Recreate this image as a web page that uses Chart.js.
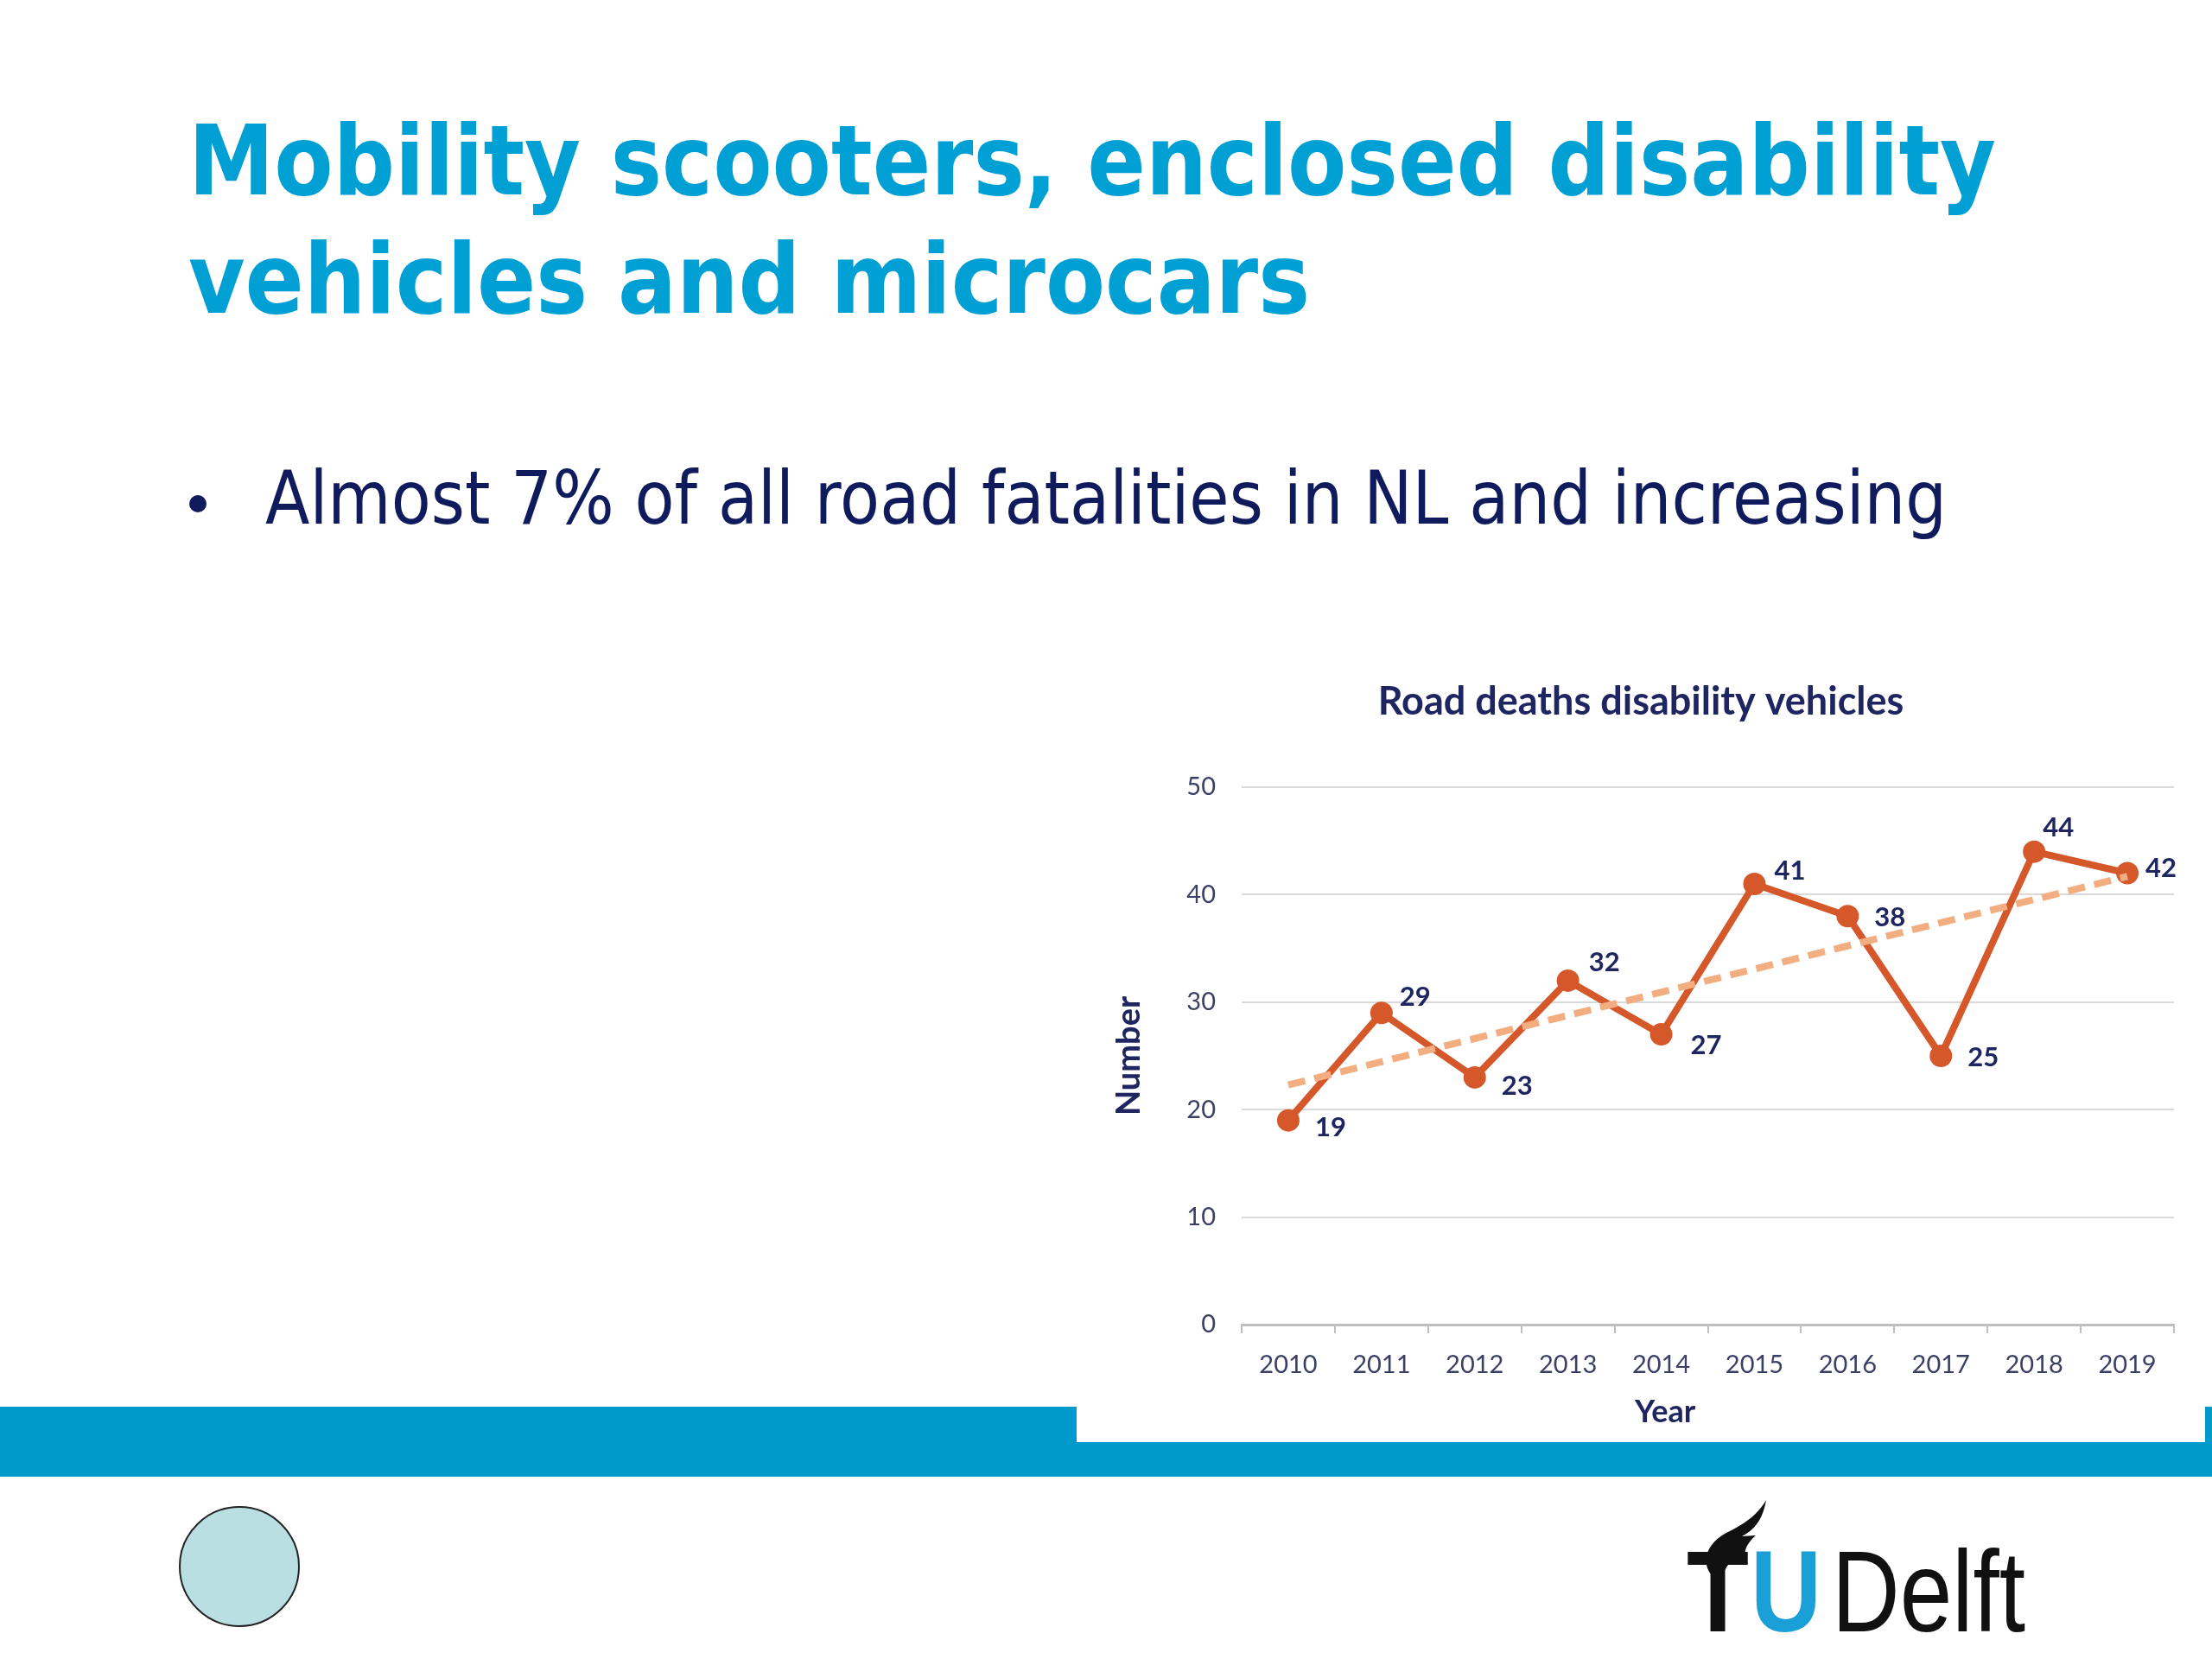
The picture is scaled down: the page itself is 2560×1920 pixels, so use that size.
<!DOCTYPE html>
<html>
<head>
<meta charset="utf-8">
<script src="https://cdn.jsdelivr.net/npm/chart.js@4.4.0/dist/chart.umd.min.js"></script>
<style>
  html, body { margin: 0; padding: 0; background: #fff; }
  body { width: 2560px; height: 1920px; position: relative; overflow: hidden; }
  .title {
    position: absolute; left: 218px; top: 118px; margin: 0;
    font-family: "DejaVu Sans", sans-serif; font-weight: bold;
    font-size: 112px; line-height: 137px; color: #009fd4; white-space: nowrap;
  }
  .title span, .bullet span { display: inline-block; transform-origin: left center; }
  .bullet {
    position: absolute; left: 307px; top: 527px;
    font-family: "DejaVu Sans", sans-serif; font-size: 85px; line-height: 100px;
    color: #0f1b5c; white-space: nowrap;
  }
  .dot { position: absolute; left: 219px; top: 573px; width: 20px; height: 20px; border-radius: 50%; background: #0f1b5c; }
  .band { position: absolute; left: 0; top: 1628px; width: 2560px; height: 81px; background: #0099cc; }
  .chartbox { position: absolute; left: 1246px; top: 760px; width: 1306px; height: 909px; background: #fff; }
  .circle { position: absolute; left: 207px; top: 1743px; width: 140px; height: 140px; border-radius: 50%;
    background: #b9dfe3; border: 2px solid #222; box-sizing: border-box; }
  .logo { position: absolute; left: 1950px; top: 1730px; width: 420px; height: 170px; }
</style>
</head>
<body>
<div class="title"><span id="t1">Mobility scooters, enclosed disability</span><br><span id="t2">vehicles and microcars</span></div>
<div class="dot"></div>
<div class="bullet"><span id="b1">Almost 7% of all road fatalities in NL and increasing</span></div>
<div class="band"></div>
<div class="chartbox"><canvas id="chart" width="1306" height="909"></canvas></div>
<div class="circle"></div>
<svg class="logo" viewBox="0 0 420 170">
  <path d="M30 92 C 18 76, 26 54, 52 42 C 66 35, 84 24, 94 6 C 90 30, 80 40, 66 48 L 82 47 C 72 56, 66 66, 72 76 C 58 70, 46 80, 44 96 Z" fill="#111"/>
  <text x="2" y="158" textLength="72" lengthAdjust="spacingAndGlyphs" font-family="Liberation Sans, Arial, sans-serif" font-weight="bold" font-size="134" fill="#111">T</text>
  <text x="76" y="158" textLength="82" lengthAdjust="spacingAndGlyphs" font-family="Liberation Sans, Arial, sans-serif" font-weight="bold" font-size="134" fill="#1a9fd6">U</text>
  <text x="170" y="158" textLength="224" lengthAdjust="spacingAndGlyphs" font-family="Liberation Sans, Arial, sans-serif" font-size="134" fill="#111">Delft</text>
</svg>
<script>
// fit slide text to the widths seen in the reference
function fitWidth(id, target) {
  const el = document.getElementById(id);
  const w = el.getBoundingClientRect().width;
  el.style.transform = "scaleX(" + (target / w) + ")";
}
fitWidth("t1", 2092);
fitWidth("t2", 1298);
fitWidth("b1", 1946);

// Data
const years = ["2010", "2011", "2012", "2013", "2014", "2015", "2016", "2017", "2018", "2019"];
const deaths = [19, 29, 23, 32, 27, 41, 38, 25, 44, 42];
// trend line end points
const trend = [22.3, null, null, null, null, null, null, null, null, 41.7];
const yTicks = [0, 10, 20, 30, 40, 50];

// where each value label sits relative to its point (px)
const labelOffsets = [[49, 8], [39, -18], [49, 10], [42, -21], [52, 13], [41, -15], [49, 2], [49, 2], [28, -28], [39, -6]];

const navy = "#1f2560";
const lineColor = "#d4582a";

const valueLabels = {
  id: "valueLabels",
  afterDatasetsDraw(chart) {
    const ctx = chart.ctx;
    const meta = chart.getDatasetMeta(1);
    ctx.save();
    ctx.font = "bold 31px Lato";
    ctx.fillStyle = navy;
    ctx.textAlign = "center";
    ctx.textBaseline = "middle";
    meta.data.forEach((pt, i) => {
      ctx.fillText(String(deaths[i]), pt.x + labelOffsets[i][0], pt.y + labelOffsets[i][1]);
    });
    // x axis title sits a little left of the plot centre in the reference
    ctx.font = "bold 36px Lato";
    ctx.fillText("Year", chart.width / 2 + 28, 874);
    ctx.restore();
  }
};

const ctx = document.getElementById("chart").getContext("2d");
const chart = new Chart(ctx, {
  type: "line",
  data: {
    labels: years,
    datasets: [
      {
        label: "Trend",
        data: trend,
        spanGaps: true,
        borderColor: "#f2ad80",
        borderWidth: 8,
        borderDash: [20, 11],
        pointRadius: 0,
        fill: false,
      },
      {
        label: "Road deaths",
        data: deaths,
        borderColor: lineColor,
        backgroundColor: lineColor,
        borderWidth: 8,
        pointRadius: 13,
        pointBackgroundColor: lineColor,
        pointBorderWidth: 0,
        tension: 0,
        fill: false,
      },
    ],
  },
  options: {
    responsive: false,
    devicePixelRatio: 1,
    animation: false,
    layout: { padding: { left: 36, right: 36, top: 0, bottom: 0 } },
    plugins: {
      legend: { display: false },
      tooltip: { enabled: false },
      title: {
        display: true,
        text: "Road deaths disability vehicles",
        color: navy,
        font: { family: "Lato", size: 45, weight: "bold" },
        padding: { top: 25, bottom: 72 },
      },
    },
    scales: {
      x: {
        offset: true,
        grid: { offset: true, drawOnChartArea: false, drawTicks: true, tickLength: 10, color: "#bfbfbf", lineWidth: 2 },
        border: { display: true, color: "#bfbfbf", width: 3 },
        ticks: { color: "#3b3f66", font: { family: "Lato", size: 29 }, padding: 19 },
        title: { display: false },
        afterFit(scale) { scale.height = 136; },
      },
      y: {
        min: 0,
        max: 50,
        afterBuildTicks(scale) { scale.ticks = yTicks.map(v => ({ value: v })); },
        grid: { color: "#d9d9d9", lineWidth: 2, drawTicks: false },
        border: { display: false },
        ticks: { color: "#3b3f66", font: { family: "Lato", size: 29 }, padding: 30 },
        title: { display: true, text: "Number", color: navy, font: { family: "Lato", size: 38, weight: "bold" }, padding: { top: 2, bottom: 0 } },
        afterFit(scale) { scale.width = 155; },
      },
    },
  },
  plugins: [valueLabels],
});
</script>
</body>
</html>
